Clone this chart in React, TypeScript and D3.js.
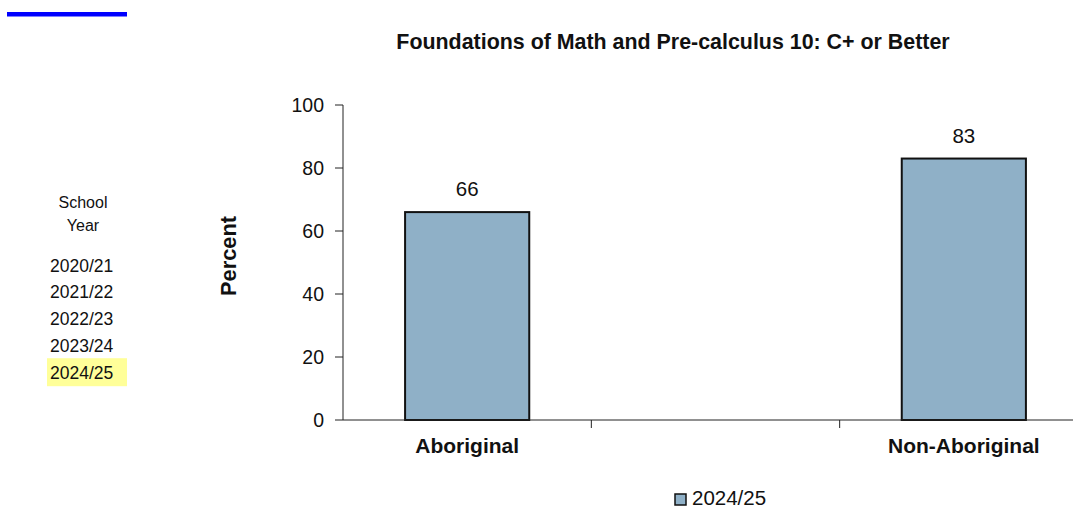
import React from "react";
import * as d3 from "d3";

const categories = ["Aboriginal", "", "Non-Aboriginal"];
const values: (number | null)[] = [66, null, 83];
const yTicks = [0, 20, 40, 60, 80, 100];
const schoolYears = ["2020/21", "2021/22", "2022/23", "2023/24", "2024/25"];
const selectedYear = "2024/25";
const seriesName = "2024/25";
const title = "Foundations of Math and Pre-calculus 10: C+ or Better";

const W = 1073;
const H = 510;
const barColor = "#8fb0c7";
const font = "Arial, 'Liberation Sans', sans-serif";

type TProps = {
  x: number;
  y: number;
  size: number;
  anchor?: "start" | "middle" | "end";
  bold?: boolean;
  children: React.ReactNode;
};

function T({ x, y, size, anchor = "start", bold, children }: TProps) {
  return (
    <text x={x} y={y} textAnchor={anchor} fontSize={size} fontWeight={bold ? "bold" : "normal"} fill="#111">
      {children}
    </text>
  );
}

export default function App() {
  const keys = categories.map((c, i) => c + "#" + i);
  const x = d3.scaleBand<string>().domain(keys).range([343, 1088]).paddingInner(0).paddingOuter(0);
  const y = d3.scaleLinear().domain([0, 100]).range([420, 105]);
  const bw = x.bandwidth() * 0.5;

  return (
    <svg width={W} height={H} style={{ position: "absolute", left: 0, top: 0, fontFamily: font }}>
      <rect x={0} y={0} width={W} height={H} fill="#fff" />
      <rect x={7} y={12} width={120} height={4.5} fill="#0000ff" />
      <T x={673} y={49} size={21.4} anchor="middle" bold>{title}</T>

      {/* left panel */}
      <T x={83} y={208} size={16} anchor="middle">School</T>
      <T x={83} y={231} size={16} anchor="middle">Year</T>
      {schoolYears.map((s, i) => {
        const cy = 265 + i * 26.8;
        return (
          <g key={s}>
            {s === selectedYear && <rect x={47} y={cy - 14} width={80} height={28} fill="#ffff99" />}
            <T x={50} y={cy + 6.5} size={17.5}>{s}</T>
          </g>
        );
      })}

      {/* y axis */}
      <line x1={343} x2={343} y1={y(100)} y2={y(0)} stroke="#222" strokeWidth={1} />
      {yTicks.map((t) => (
        <g key={t}>
          <line x1={335} x2={343} y1={y(t)} y2={y(t)} stroke="#222" strokeWidth={1} />
          <T x={324} y={y(t) + 7} size={19.5} anchor="end">{t}</T>
        </g>
      ))}
      <text transform={`translate(236,256) rotate(-90)`} textAnchor="middle" fontSize={21.8} fontWeight="bold" fill="#111">Percent</text>

      {/* bars */}
      {keys.map((k, i) => {
        const v = values[i];
        if (v == null) return null;
        const cx = (x(k) as number) + x.bandwidth() / 2;
        return (
          <g key={k}>
            <rect x={cx - bw / 2} y={y(v)} width={bw} height={y(0) - y(v)} fill={barColor} stroke="#111" strokeWidth={2} />
            <T x={cx} y={y(v) - 16} size={20.5} anchor="middle">{v}</T>
          </g>
        );
      })}

      {/* x axis */}
      <line x1={343} x2={1088} y1={y(0)} y2={y(0)} stroke="#222" strokeWidth={1} />
      {keys.map((k, i) => (
        <g key={"t" + i}>
          {i > 0 && <line x1={x(k) as number} x2={x(k) as number} y1={420} y2={428} stroke="#222" strokeWidth={1} />}
          <T x={(x(k) as number) + x.bandwidth() / 2} y={453} size={21} anchor="middle" bold>{categories[i]}</T>
        </g>
      ))}

      {/* legend */}
      <rect x={675} y={494} width={11} height={11} fill={barColor} stroke="#111" strokeWidth={1.5} />
      <T x={692} y={505} size={20.5}>{seriesName}</T>
    </svg>
  );
}
